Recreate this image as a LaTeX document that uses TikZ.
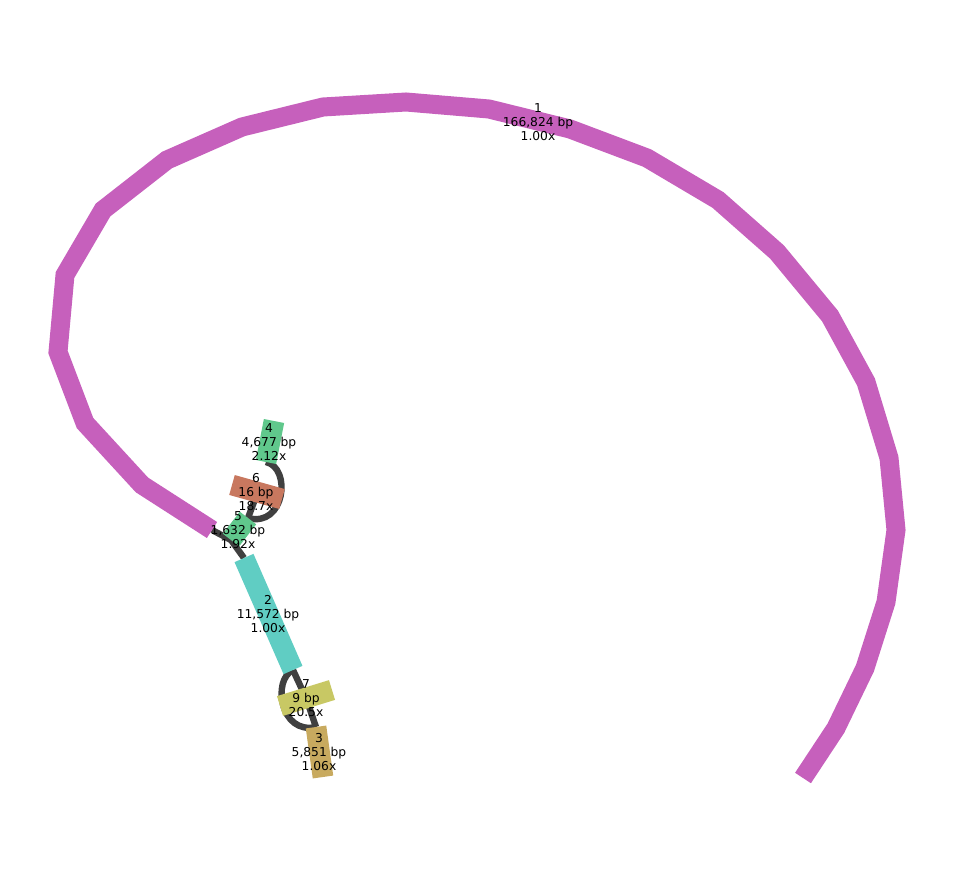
\documentclass[tikz,border=0pt]{standalone}
\usepackage{fontspec}
\setmainfont{DejaVu Sans}
\usepackage{xcolor}
\usepackage{tikz}

\definecolor{ctgmagenta}{RGB}{198,96,188}
\definecolor{ctgteal}{RGB}{96,205,195}
\definecolor{ctgtan}{RGB}{200,170,95}
\definecolor{ctggreen}{RGB}{96,200,140}
\definecolor{ctgsalmon}{RGB}{200,120,95}
\definecolor{ctgolive}{RGB}{200,200,100}
\definecolor{linkgray}{RGB}{64,64,64}

\begin{document}
\begin{tikzpicture}[
    x=0.75pt, y=-0.75pt,
    contig/.style={line width=15.5pt, line cap=butt},
    link/.style={draw=linkgray, line width=4.8pt},
    lbl/.style={align=center, font=\fontsize{9.2}{10.5}\selectfont}
]
\useasboundingbox (0,0) rectangle (953,881);

% contig end points
\coordinate (c1a) at (212,530);
\coordinate (c1b) at (803,778);
\coordinate (c2a) at (244,558);
\coordinate (c2b) at (293,670);
\coordinate (c3a) at (316,727);
\coordinate (c3b) at (323,777);
\coordinate (c4a) at (274,421);
\coordinate (c4b) at (266,462);
\coordinate (c5a) at (231,540);
\coordinate (c5b) at (248,518);
\coordinate (c6a) at (232,485);
\coordinate (c6b) at (282,499);
\coordinate (c6m) at (257,494);
\coordinate (c7a) at (280,706);
\coordinate (c7b) at (332,690);
\coordinate (c7m) at (306,698);

% links
\draw[link] (c1a) -- (c5a);
\draw[link] (c5a) -- (c2a);
\draw[link] (c5b) -- (c6m);
\draw[link] (c4b) .. controls (292,468) and (285,528) .. (c5b);
\draw[link] (c2b) -- (c7m);
\draw[link] (c2b) .. controls (272,680) and (280,735) .. (c3a);
\draw[link] (c7m) -- (c3a);

% contigs
\draw[contig, ctgmagenta, line width=14.25pt] (c1a) -- (142,485) -- (85,423) -- (58,352)
    -- (65,275) -- (103,210) -- (167,160) -- (242,127) -- (323,107) -- (406,102)
    -- (489,109) -- (570,129) -- (647,158) -- (718,200) -- (777,252) -- (830,316)
    -- (866,382) -- (889,458) -- (896,530) -- (886,602) -- (865,668) -- (836,728) -- (c1b);
\draw[contig, ctgteal] (c2a) -- (c2b);
\draw[contig, ctgtan] (c3a) -- (c3b);
\draw[contig, ctggreen] (c4a) -- (c4b);
\draw[contig, ctggreen] (c5a) -- (c5b);
\draw[contig, ctgsalmon] (c6a) -- (c6b);
\draw[contig, ctgolive] (c7a) -- (c7b);

% labels
\node[lbl] (l1) at (538,122) {1\\166,824 bp\\1.00x};
\node[lbl] (l2) at (268,614) {2\\11,572 bp\\1.00x};
\node[lbl] (l3) at (319,752) {3\\5,851 bp\\1.06x};
\node[lbl] (l4) at (269,442) {4\\4,677 bp\\2.12x};
\node[lbl] (l5) at (238,530) {5\\1,632 bp\\1.92x};
\node[lbl] (l6) at (256,492) {6\\16 bp\\18.7x};
\node[lbl] (l7) at (306,698) {7\\9 bp\\20.5x};
\end{tikzpicture}
\end{document}
